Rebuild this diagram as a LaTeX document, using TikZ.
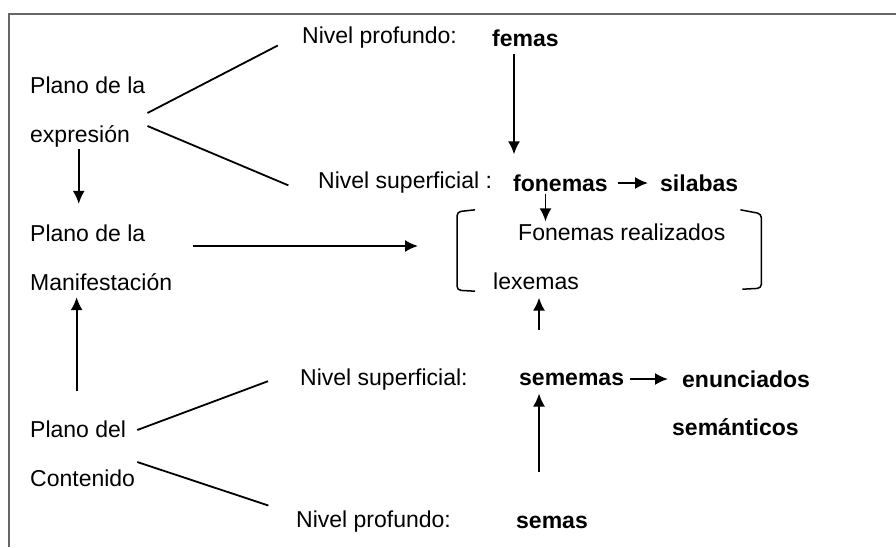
\documentclass[tikz,border=0pt]{standalone}
\usepackage{fontspec}
\setmainfont{Liberation Sans}
\usetikzlibrary{arrows.meta}

\begin{document}
\begin{tikzpicture}[x=1pt, y=-1pt,
    every node/.style={font=\fontsize{23}{27}\selectfont, inner sep=2pt, anchor=west},
    plano/.style={align=left, font=\fontsize{23}{49}\selectfont},
    palabra/.style={font=\fontsize{23}{27}\selectfont\bfseries},
    enlace/.style={line width=1.8pt},
    flecha/.style={line width=1.8pt, -{Latex[length=13pt, width=12pt]}}]

    \useasboundingbox (0,0) rectangle (896,547);
    \draw[line width=1.8pt, black!60] (9,547) -- (9,14) -- (896,14);

    % planos
    \node[plano] (pe) at (28,112) {Plano de la\\expresión};
    \node[plano] (pm) at (28,258) {Plano de la\\Manifestación};
    \node[plano] (pc) at (28,454) {Plano del\\Contenido};

    % plano de la expresion
    \node (np1) at (300,38) {Nivel profundo:};
    \node[palabra] (femas) at (490,38) {femas};
    \node (ns1) at (316,183) {Nivel superficial :};
    \node[palabra] (fonemas) at (511,183) {fonemas};
    \node[palabra] (silabas) at (658,183) {silabas};

    % manifestacion
    \node (fr) at (516,232) {Fonemas realizados};
    \node (lex) at (491,281) {lexemas};
    \node[minimum width=304, minimum height=80] (brk) at (457,250) {};
    \draw[line width=1.5pt, rounded corners=4pt] ([xshift=18pt]brk.north west) -- ([yshift=-2pt]brk.north west) -- (brk.south west) -- ([xshift=18pt, yshift=-1pt]brk.south west);
    \draw[line width=1.5pt, rounded corners=4pt] ([xshift=-21pt]brk.north east) -- ([yshift=-4pt]brk.north east) -- ([yshift=2pt]brk.south east) -- ([xshift=-19pt, yshift=1pt]brk.south east);

    % plano del contenido
    \node (ns2) at (298,380) {Nivel superficial:};
    \node[palabra] (sememas) at (517,379) {sememas};
    \node[palabra] (enun) at (680,379) {enunciados};
    \node[palabra] (sem) at (670,427) {semánticos};
    \node (np2) at (294,522) {Nivel profundo:};
    \node[palabra] (semas) at (514,522) {semas};

    \draw[enlace, shorten >=25pt] ([yshift=-1pt]pe.east) -- ([yshift=4pt]np1.west);
    \draw[enlace, shorten >=30pt] ([yshift=-14pt]pe.east) -- ([yshift=-14pt]ns1.west);
    \draw[enlace, shorten >=32pt] ([yshift=24pt]pc.east) -- ([yshift=10pt]ns2.west);
    \draw[enlace, shorten >=27pt] ([yshift=-8pt]pc.east) -- ([yshift=8pt]np2.west);

    \draw[flecha, shorten <=5pt, shorten >=18pt] ([xshift=3pt]femas.south -| fonemas.west) -- ([xshift=3pt]fonemas.north west);
    \draw[flecha, shorten <=8pt, shorten >=10pt] (fonemas.east) -- (silabas.west);
    \draw[flecha] ([xshift=-15pt]fonemas.south) -- ([xshift=-15pt]fonemas.south |- fr.north);
    \draw[flecha, shorten >=19pt] ([xshift=-9pt]pe.south) -- ([xshift=-9pt]pe.south |- pm.north);
    \draw[flecha, shorten <=19pt, shorten >=39pt] ([yshift=12pt]pm.east) -- ([yshift=12pt]pm.east -| brk.west);
    \draw[flecha, shorten <=28pt, shorten >=4pt] ([xshift=-6pt]pc.north) -- ([xshift=-6pt]pc.north |- pm.south);
    \draw[flecha, shorten <=41pt, shorten >=6pt] ([xshift=3pt]lex.south |- sememas.north) -- ([xshift=3pt]lex.south);
    \draw[flecha, shorten <=42pt, shorten >=6pt] ([xshift=3pt]lex.south |- semas.north) -- ([xshift=3pt]lex.south |- sememas.south);
    \draw[flecha, shorten <=4pt, shorten >=12pt] (sememas.east) -- (enun.west);
\end{tikzpicture}
\end{document}
